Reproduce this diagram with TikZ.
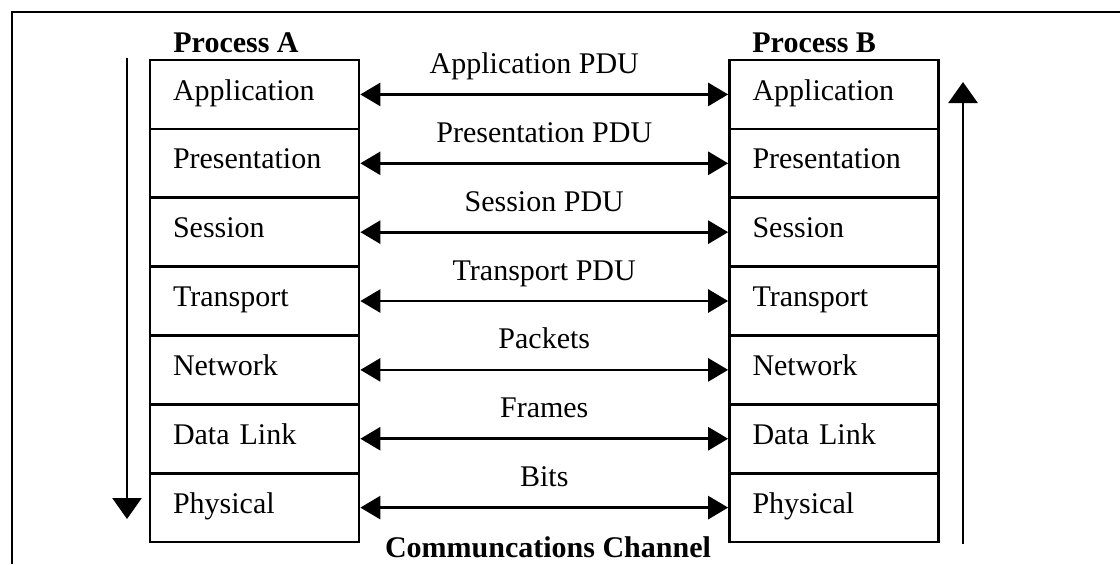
\documentclass[tikz,border=0pt]{standalone}
\usepackage{fontspec}
\setmainfont{Liberation Serif}
\usetikzlibrary{arrows.meta}

\begin{document}
\begin{tikzpicture}[
  x=0.5pt, y=-0.5pt,
  every node/.style={font=\fontsize{15pt}{18pt}\selectfont},
  layer/.style={draw, line width=1.35pt, rectangle, minimum width=104.5pt,
    minimum height=34.43pt, inner xsep=11.5pt, inner ysep=0pt,
    text width=81.5pt, align=left, text height=8pt, text depth=2.4pt},
  pdu/.style={line width=1.35pt, {Triangle[length=10pt,width=11.5pt]}-{Triangle[length=10pt,width=11.5pt]}},
  pdulabel/.style={midway, anchor=base, yshift=10.5pt, inner sep=0pt},
  flow/.style={line width=1.35pt, -{Triangle[length=10.5pt,width=14.5pt]}},
  title/.style={font=\fontsize{15pt}{18pt}\selectfont\bfseries, inner sep=0pt},
  frame/.style={line width=1.35pt}
]
\useasboundingbox (0,0) rectangle (1120,564);

% outer frame
\draw[frame] (12,564) -- (12,12) -- (1120,12);

% protocol stacks of the two processes
\foreach \name [count=\i from 0] in {Application,Presentation,Session,Transport,Network,Data Link,Physical} {
  \node[layer] (a\i) at (254.5, 60+68.86*\i+34.43) {\name};
  \node[layer] (b\i) at (834, 60+68.86*\i+34.43) {\name};
}

% stack titles
\node[title, anchor=base west] (ta) at (173,52) {Process A};
\node[title, anchor=base west] (tb) at (752,52) {Process B};

% peer-to-peer exchanges
\draw[pdu] (a0.east) -- (b0.west) node[pdulabel, xshift=-5pt] (l0) {Application PDU};
\draw[pdu] (a1.east) -- (b1.west) node[pdulabel] (l1) {Presentation PDU};
\draw[pdu] (a2.east) -- (b2.west) node[pdulabel] (l2) {Session PDU};
\draw[pdu] (a3.east) -- (b3.west) node[pdulabel] (l3) {Transport PDU};
\draw[pdu] (a4.east) -- (b4.west) node[pdulabel] (l4) {Packets};
\draw[pdu] (a5.east) -- (b5.west) node[pdulabel] (l5) {Frames};
\draw[pdu] (a6.east) -- (b6.west) node[pdulabel] (l6) {Bits};

% channel caption
\node[title, anchor=base] (chan) at (548,557) {Communcations Channel};

% data flow down through A and up through B
\coordinate (downtop) at (127,58);
\coordinate (downtip) at (127,519);
\coordinate (upbottom) at (963,544);
\coordinate (uptip) at (963,82);
\draw[flow] (downtop) -- (downtip);
\draw[flow] (upbottom) -- (uptip);
\end{tikzpicture}
\end{document}
